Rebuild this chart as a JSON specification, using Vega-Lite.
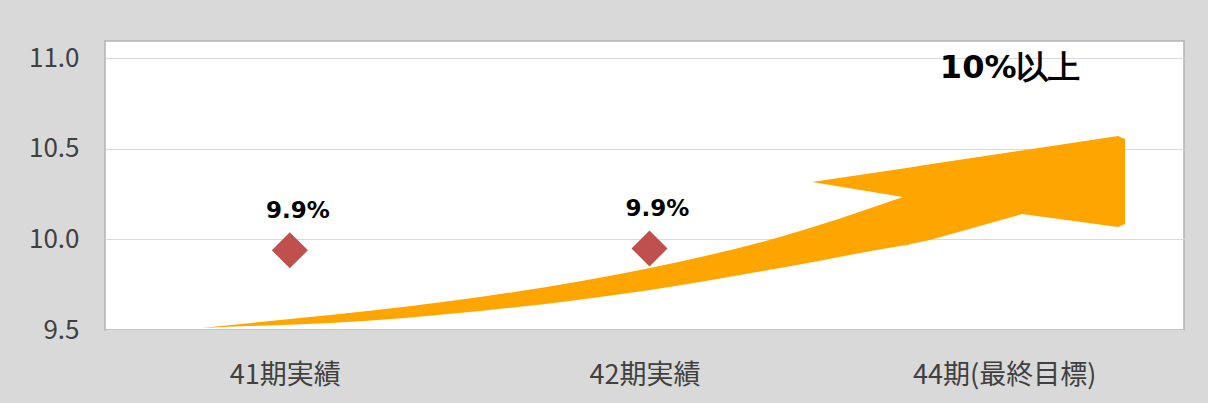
{
  "$schema": "https://vega.github.io/schema/vega-lite/v6.json",
  "width": 1079,
  "height": 289,
  "autosize": {"type": "none"},
  "padding": {"left": 105, "top": 41, "right": 24, "bottom": 73},
  "background": "#d9d9d9",
  "config": {
    "view": {"fill": "#ffffff", "stroke": "#b3b3b3", "strokeWidth": 1.5},
    "font": "Noto Sans CJK JP"
  },
  "datasets": {
    "arrow": [
      {"part": "body", "u": 0.2697, "top": 9.511, "bottom": 9.511},
      {"part": "body", "u": 0.431, "top": 9.544, "bottom": 9.524},
      {"part": "body", "u": 0.6256, "top": 9.583, "bottom": 9.539},
      {"part": "body", "u": 1.0426, "top": 9.682, "bottom": 9.605},
      {"part": "body", "u": 1.5153, "top": 9.842, "bottom": 9.721},
      {"part": "body", "u": 1.8767, "top": 10.013, "bottom": 9.842},
      {"part": "body", "u": 2.2187, "top": 10.234, "bottom": 9.966},
      {"part": "body", "u": 2.235, "top": 10.245, "bottom": 9.971},
      {"part": "head", "u": 1.9657, "top": 10.317, "bottom": 10.317},
      {"part": "head", "u": 2.2187, "top": 10.392, "bottom": 10.234},
      {"part": "head", "u": 2.2197, "top": 10.392, "bottom": 9.966},
      {"part": "head", "u": 2.2938, "top": 10.415, "bottom": 9.997},
      {"part": "head", "u": 2.5496, "top": 10.491, "bottom": 10.14},
      {"part": "head", "u": 2.8165, "top": 10.571, "bottom": 10.068},
      {"part": "head", "u": 2.836, "top": 10.554, "bottom": 10.085}
    ],
    "results": [
      {"period": "41期実績", "rate": 9.94, "label": "9.9%"},
      {"period": "42期実績", "rate": 9.95, "label": "9.9%"}
    ],
    "target": [
      {"period": "44期(最終目標)", "rate": 10.946, "label": "10%以上"}
    ]
  },
  "resolve": {"scale": {"x": "independent"}, "axis": {"x": "independent"}},
  "layer": [
    {
      "data": {"name": "arrow"},
      "transform": [{"filter": "datum.part === 'body'"}],
      "mark": {"type": "area", "color": "#ffa500", "interpolate": "monotone"},
      "encoding": {
        "x": {"field": "u", "type": "quantitative", "scale": {"domain": [0, 3], "nice": false, "zero": false}, "axis": null},
        "y": {"field": "top", "type": "quantitative", "title": null, "scale": {"domain": [9.5, 11.095], "nice": false, "zero": false}},
        "y2": {"field": "bottom"}
      }
    },
    {
      "data": {"name": "arrow"},
      "transform": [{"filter": "datum.part === 'head'"}],
      "mark": {"type": "area", "color": "#ffa500", "interpolate": "linear"},
      "encoding": {
        "x": {"field": "u", "type": "quantitative", "scale": {"domain": [0, 3], "nice": false, "zero": false}, "axis": null},
        "y": {"field": "top", "type": "quantitative", "title": null, "scale": {"domain": [9.5, 11.095], "nice": false, "zero": false}},
        "y2": {"field": "bottom"}
      }
    },
    {
      "layer": [
        {
          "data": {"name": "results"},
          "mark": {"type": "point", "shape": "diamond", "filled": true, "color": "#c0504d", "opacity": 1, "size": 1300, "xOffset": 5},
          "encoding": {
            "x": {"field": "period", "type": "nominal", "title": null,
              "scale": {"domain": ["41期実績", "42期実績", "44期(最終目標)"], "paddingInner": 0, "paddingOuter": 0},
              "axis": {"labelAngle": 0, "ticks": false, "domain": false, "grid": false, "labelFontSize": 27, "labelLimit": 0, "labelColor": "#404040", "labelBaseline": "middle", "labelPadding": 45, "labelFont": "Noto Sans CJK JP"}},
            "y": {"field": "rate", "type": "quantitative", "title": null,
              "scale": {"domain": [9.5, 11.095], "nice": false, "zero": false},
              "axis": {"values": [9.5, 10, 10.5, 11], "format": ".1f", "ticks": false, "domain": false, "gridColor": "#d9d9d9", "gridWidth": 1.2, "labelFontSize": 26, "labelColor": "#404040", "labelPadding": 26, "labelFont": "Noto Sans CJK JP"}}
          }
        },
        {
          "data": {"name": "results"},
          "mark": {"type": "text", "font": "DejaVu Sans", "fontWeight": "bold", "fontSize": 23, "color": "#000000", "dx": 13, "dy": -39, "baseline": "middle"},
          "encoding": {
            "x": {"field": "period", "type": "nominal"},
            "y": {"field": "rate", "type": "quantitative", "title": null},
            "text": {"field": "label"}
          }
        },
        {
          "data": {"name": "target"},
          "mark": {"type": "text", "font": "DejaVu Sans", "fontWeight": "bold", "fontSize": 32, "color": "#000000", "dx": 6, "baseline": "middle"},
          "encoding": {
            "x": {"field": "period", "type": "nominal"},
            "y": {"field": "rate", "type": "quantitative", "title": null},
            "text": {"field": "label"}
          }
        }
      ]
    }
  ]
}
